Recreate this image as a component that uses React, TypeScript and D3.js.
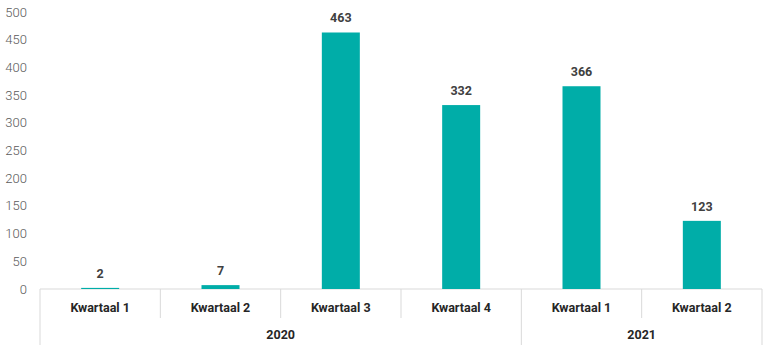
import React from "react";
import * as d3 from "d3";

const quarters = ["Kwartaal 1", "Kwartaal 2", "Kwartaal 3", "Kwartaal 4", "Kwartaal 1", "Kwartaal 2"];
const years = ["2020", "2020", "2020", "2020", "2021", "2021"];
const values = [2, 7, 463, 332, 366, 123];
const yTicks = [0, 50, 100, 150, 200, 250, 300, 350, 400, 450, 500];

const W = 770, H = 350;
const left = 40, right = 762, top = 12, bottom = 289;
const FONT = "Roboto, 'Noto Sans', sans-serif";

export default function App() {
  const x = d3.scaleBand<number>().domain(d3.range(values.length)).range([left, right]).paddingInner(0).paddingOuter(0);
  const y = d3.scaleLinear().domain([0, 500]).range([bottom, top]);
  const barW = 38;
  const bw = x.bandwidth();

  const groups: { year: string; start: number; end: number }[] = [];
  years.forEach((yr, i) => {
    const g = groups[groups.length - 1];
    if (g && g.year === yr) g.end = i;
    else groups.push({ year: yr, start: i, end: i });
  });
  const groupBoundaries = new Set<number>();
  groups.forEach((g) => { groupBoundaries.add(g.start); groupBoundaries.add(g.end + 1); });

  return (
    <svg width={W} height={H} style={{ position: "absolute", left: 0, top: 0, background: "#fff" }}>
      {yTicks.map((t) => (
        <text key={t} x={27} y={y(t)} dy="0.35em" textAnchor="end" fontFamily={FONT} fontWeight={300} fontSize={13} fill="#595959">
          {t}
        </text>
      ))}
      <line x1={left} x2={right} y1={bottom} y2={bottom} stroke="#d9d9d9" strokeWidth={1} />
      {d3.range(values.length + 1).map((i) => {
        const xx = i < values.length ? x(i)! : right;
        const isGroup = groupBoundaries.has(i);
        return (
          <line key={i} x1={xx} x2={xx} y1={bottom} y2={isGroup ? 345 : 318} stroke="#d9d9d9" strokeWidth={1} />
        );
      })}
      {values.map((v, i) => {
        const cx = x(i)! + bw / 2;
        return (
          <g key={i}>
            <rect x={cx - barW / 2} y={y(v)} width={barW} height={bottom - y(v)} fill="#00ADA8" />
            <text x={cx} y={y(v) - 10} textAnchor="middle" fontFamily={FONT} fontWeight="bold" fontSize={12.5} fill="#404040">
              {v}
            </text>
            <text x={cx} y={308} dy="0.35em" textAnchor="middle" fontFamily={FONT} fontWeight="bold" fontSize={12.5} fill="#262626">
              {quarters[i]}
            </text>
          </g>
        );
      })}
      {groups.map((g) => {
        const cx = (x(g.start)! + (g.end + 1 < values.length ? x(g.end + 1)! : right)) / 2;
        return (
          <text key={g.year + g.start} x={cx} y={335} dy="0.35em" textAnchor="middle" fontFamily={FONT} fontWeight="bold" fontSize={12.5} fill="#262626">
            {g.year}
          </text>
        );
      })}
    </svg>
  );
}
